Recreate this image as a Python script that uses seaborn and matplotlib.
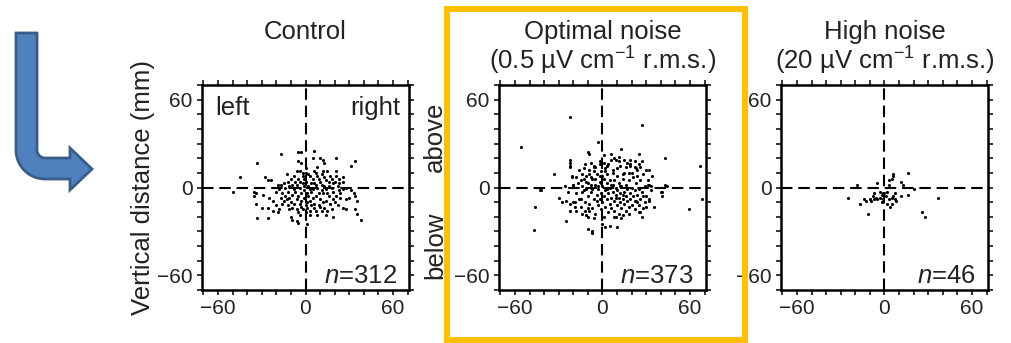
import numpy as np
import matplotlib
matplotlib.use("Agg")
import matplotlib.pyplot as plt
import matplotlib.transforms as mtransforms
from matplotlib.path import Path
from matplotlib.patches import PathPatch, Rectangle
import seaborn as sns

# points (horizontal, vertical distance in mm)
control_pts = [
    (-17, 23), (-5, 24), (-3, 24), (6, 25),
    (-5, 18), (-3, 17), (5, 20), (10, 20), (12, 19), (13, 17), (21, 20), (-33, 17), (34, 18),
    (31, 15), (-6, 11), (-4, 11), (-2, 10), (0, 10), (6, 11), (7, 10), (12, 11), (15, 11),
    (21, 11), (0, 13), (8, 14),
    (-45, 7), (-28, 7), (-26, 5), (-24, 5), (-13, 9), (-10, 6), (-8, 8), (-5, 6), (-4, 4),
    (-2, 8), (0, 4), (3, 8), (5, 6), (8, 8), (10, 4), (13, 7), (18, 6), (20, 4), (21, 8),
    (23, 6), (26, 7), (26, 4), (23, 3), (-17, 2), (-19, 2),
    (-50, -3), (-35, -3), (-34, -4), (-18, -1), (-14, 0), (-11, 1), (-8, -1), (-4, 0), (-1, -2),
    (2, 1), (5, -1), (8, 0), (11, -2), (14, -1), (18, 0), (19, -3), (23, -2), (26, -1), (28, 0),
    (31, -2), (33, -4),
    (-35, -6), (-29, -5), (-25, -7), (-17, -7), (-14, -6), (-13, -8), (-11, -7), (-9, -5),
    (-6, -8), (-5, -6), (-3, -9), (-1, -7), (1, -4), (3, -9), (5, -7), (7, -6), (10, -8),
    (12, -4), (14, -9), (16, -6), (19, -8), (21, -6), (24, -7), (28, -8), (30, -7), (34, -6), (35, -9),
    (-34, -11), (-30, -14), (-26, -14), (-22, -16), (-18, -15), (-16, -11), (-12, -12), (-9, -14),
    (-6, -15), (-4, -11), (-2, -15), (0, -12), (3, -16), (6, -14), (9, -12), (11, -16), (13, -14),
    (15, -16), (18, -15), (22, -12), (26, -14), (28, -15), (34, -15), (35, -18),
    (-33, -21), (-26, -21), (-19, -17), (-10, -20), (-9, -22), (-6, -23), (-4, -19), (3, -19),
    (8, -19), (19, -20), (38, -22), (-5, -24), (1, -25),
    (-20, -3), (-16, -4), (-12, -3), (-10, -10), (-7, -3), (-6, 2), (-3, -4), (-2, 3), (1, -10),
    (2, -6), (4, -3), (4, 3), (6, -11), (7, 2), (9, -4), (9, 6), (11, 2), (12, -10), (13, 1),
    (15, -4), (16, 4), (17, -11), (20, -10), (22, 1), (24, -4), (-22, -9), (-20, -12), (-15, -9),
    (-8, -11), (-3, -13), (1, -14), (4, -12), (7, -16), (10, -13), (-1, 6), (2, 9), (-7, 4),
    (-9, 2), (-12, 4), (17, 8), (14, 5), (-15, 3), (3, -1), (-1, 1), (6, 3), (11, 9), (16, 1),
    (19, 3), (-5, -17), (14, -19), (-11, -15), (0, -17),
]

optimal_pts = [
    (-22, 48), (27, 43), (-56, 28), (-3, 31), (-10, 24), (-9, 23), (6, 23), (13, 26), (25, 23),
    (43, 20), (67, 15), (-22, 19), (-22, 17), (-22, 15), (-22, 14), (-33, 9), (-21, 8), (-21, 7),
    (-26, 1), (-43, -2), (-46, -13), (-47, -29), (-25, -23), (-10, -28), (-7, -30), (-7, -31),
    (0, -25), (2, -27), (5, -26), (10, -27), (59, -15), (68, -8), (41, -3), (41, -6), (44, 1),
    (35, -13), (30, 12), (32, 12), (34, 8),
    (-30, -7), (-28, -10), (-25, -9), (-22, -11), (-20, -10), (-19, -13), (-22, -16), (-18, -16),
    (-24, -3), (-20, 2), (-11, -19), (-15, -8), (-12, -10), (-10, -14), (-9, -16), (-14, -3),
    (32, 2), (30, -13), (32, -8), (27, -20), (25, -17), (22, -9), (24, -10), (14, -19), (8, -20),
    (28, -6),
    (11, 21), (15, 19), (9, 19), (19, 19), (22, 18), (25, 16), (26, 14), (23, 13), (19, 15),
    (18, 10), (16, 14), (14, 9), (10, 13), (7, 10), (3, 15), (1, 17), (2, 11), (31, 2), (33, 1),
    (40, -3), (43, 2),
    (-8, 17), (-6, 15), (-5, 14), (-2, 16), (-6, 11), (-9, 9), (-11, 8), (-13, 6), (-10, 3),
    (-8, 2), (-5, 6), (-2, 8), (-7, -1), (-3, 1), (-1, 3), (-14, 1), (-42, -2),
    (-18, -4), (-17, 3), (-16, -8), (-15, -13), (-14, 9), (-13, -2), (-12, -16), (-11, 4),
    (-10, -6), (-9, -11), (-9, 12), (-8, -3), (-7, -14), (-7, 6), (-6, -8), (-5, -18), (-5, 2),
    (-4, -5), (-4, 9), (-3, -12), (-3, -1), (-2, -8), (-2, 4), (-1, -15), (-1, -4), (0, 1),
    (0, -10), (1, -6), (1, 6), (2, -2), (2, -13), (3, 3), (3, -8), (3, 9), (4, -17), (4, -4),
    (5, 0), (5, -11), (5, 5), (6, -7), (6, -14), (7, 2), (7, -3), (7, 12), (8, -9), (8, -16),
    (8, 5), (9, -5), (9, 0), (10, -12), (10, 8), (10, -2), (11, -7), (11, 3), (11, -18),
    (12, -10), (12, 15), (12, -4), (13, 1), (13, -14), (14, -8), (14, 6), (15, -3), (15, -11),
    (15, 10), (16, -16), (16, -6), (16, 2), (17, -9), (17, 17), (17, -1), (18, -13), (18, 5),
    (19, -4), (19, -8), (20, 0), (20, -12), (21, 7), (21, -6), (22, -2), (22, -15), (23, 3),
    (23, -9), (24, 12), (24, -5), (25, -1), (25, -12), (26, 5), (26, -8), (27, -3), (28, 9),
    (28, -14), (29, 1), (30, -6), (31, 5), (32, -9), (33, -2), (-19, -10), (-20, 2), (-16, 12),
    (-14, -18), (-12, 16), (-10, -20), (-6, -21), (-2, 18), (-1, 11), (1, -20), (2, 13), (4, 16),
    (6, 19), (8, 20), (9, -20), (13, -21), (18, -18), (20, 10), (22, 14), (-8, 7), (-4, -9),
    (0, 8), (3, -1), (6, 2), (9, -7), (12, 1), (14, -5), (-11, -1), (-15, 5), (-18, 7), (-6, 14),
    (1, 22), (11, 18), (19, 16), (-13, 13), (26, -17), (29, -10), (24, 8), (27, 18),
]

high_pts = [
    (6, 9), (6, 8), (5, 6), (16, 10), (11, 4), (13, 2), (3, 5), (3, 2), (-5, 3), (-19, 2),
    (20, -1), (-25, -7), (-17, -11), (-14, -8), (-13, -9), (-10, -8), (-8, -6), (-7, -4),
    (-6, -7), (-3, -3), (-2, -5), (-1, -4), (-1, -8), (1, -6), (2, -3), (3, -8), (5, -7),
    (6, -6), (7, -8), (8, -9), (5, -11), (4, -13), (2, -11), (-2, -10), (-5, -8), (-7, -8),
    (-9, -9), (11, -6), (16, -5), (37, -7), (-11, -18), (26, -17), (28, -20), (0, -4),
    (-3, -7), (7, -4),
]

titles = ["Control", "Optimal noise\n(0.5 \u00b5V cm$^{\u22121}$ r.m.s.)",
          "High noise\n(20 \u00b5V cm$^{\u22121}$ r.m.s.)"]
counts = ["$n$=312", "$n$=373", "$n$=46"]
ticks = [-60, 0, 60]

sns.set_theme(style="ticks")
plt.rcParams["font.family"] = ["Liberation Sans", "DejaVu Sans"]
plt.rcParams["mathtext.fontset"] = "custom"
plt.rcParams["mathtext.rm"] = "Liberation Sans"
plt.rcParams["mathtext.it"] = "Liberation Sans:italic"

fig = plt.figure(figsize=(10.12, 3.43), dpi=100)
W, H = 1012, 343
lefts = [202, 499, 781]
pts_all = [control_pts, optimal_pts, high_pts]
axes = []
for i, left in enumerate(lefts):
    ax = fig.add_axes([left / W, 53 / H, 207 / W, 205 / H])
    xs = [p[0] for p in pts_all[i]]
    ys = [p[1] for p in pts_all[i]]
    ax.axhline(0, color="black", lw=1.5, dashes=(5.5, 2.8), zorder=1)
    ax.axvline(0, color="black", lw=1.5, dashes=(5.5, 2.8), zorder=1)
    sns.scatterplot(x=xs, y=ys, ax=ax, color="black", s=5, linewidth=0, zorder=3)
    ax.set_xlim(-71, 71)
    ax.set_ylim(-70, 70)
    ax.set_xticks(ticks)
    ax.set_yticks(ticks)
    ax.set_xticks(np.arange(-70, 71, 10), minor=True)
    ax.set_yticks(np.arange(-70, 71, 10), minor=True)
    ax.set_xticklabels(["\u221260", "0", "60"])
    ax.set_yticklabels(["\u221260", "0", "60"])
    for which in ("major", "minor"):
        ax.tick_params(which=which, direction="out", length=3.8, width=1.1, color="black",
                       top=True, right=True, labelsize=15, pad=3, labelcolor="#222222")
    for sp in ax.spines.values():
        sp.set_visible(True)
        sp.set_linewidth(1.8)
        sp.set_color("black")
    ax.set_facecolor("white")
    ax.text(0.94, 0.035, counts[i], transform=ax.transAxes, ha="right", va="baseline",
            fontsize=18.5, color="#222222")
    lines = titles[i].split("\n")
    ax.text(0.5, 1.224, lines[0], transform=ax.transAxes, ha="center", va="baseline",
            fontsize=18.5, color="#222222")
    if len(lines) > 1:
        ax.text(0.5, 1.073, lines[1], transform=ax.transAxes, ha="center", va="baseline",
                fontsize=18.5, color="#222222")
    axes.append(ax)

ax1, ax2, ax3 = axes
ax1.set_ylabel("Vertical distance (mm)", fontsize=18.5, color="#222222")
ax1.yaxis.set_label_coords(-0.227, 0.5)
ax1.text(0.063, 0.854, "left", transform=ax1.transAxes, ha="left", va="baseline",
         fontsize=18.5, color="#222222")
ax1.text(0.957, 0.854, "right", transform=ax1.transAxes, ha="right", va="baseline",
         fontsize=18.5, color="#222222")
ax2.text(-0.31, 0.746, "above", transform=ax2.transAxes, ha="center", va="center",
         rotation=90, fontsize=18.5, color="#222222")
ax2.text(-0.31, 0.22, "below", transform=ax2.transAxes, ha="center", va="center",
         rotation=90, fontsize=18.5, color="#222222")

# pixel transform (origin top-left)
px = mtransforms.Affine2D().scale(1 / W, -1 / H).translate(0, 1) + fig.transFigure

# bent blue arrow
outer = [(45 + 29 * np.cos(t), 150 + 29 * np.sin(t)) for t in np.linspace(np.pi, np.pi / 2, 20)]
inner = [(45 + 8 * np.cos(t), 150 + 8 * np.sin(t)) for t in np.linspace(np.pi / 2, np.pi, 8)]
verts = [(16, 33)] + outer + [(70, 179), (70, 190), (92, 169), (70, 148), (70, 158)] + inner + [(37, 33), (16, 33)]
codes = [Path.MOVETO] + [Path.LINETO] * (len(verts) - 2) + [Path.CLOSEPOLY]
fig.patches.append(PathPatch(Path(verts, codes), transform=px, facecolor="#4F81BD",
                             edgecolor="#385D8A", lw=2, zorder=5))

# highlight frame round the optimal-noise panel
fig.patches.append(Rectangle((447, 9), 298, 331, transform=px, fill=False,
                             edgecolor="#FFC000", lw=4.3, zorder=10))

fig.savefig("out.png", dpi=100)
